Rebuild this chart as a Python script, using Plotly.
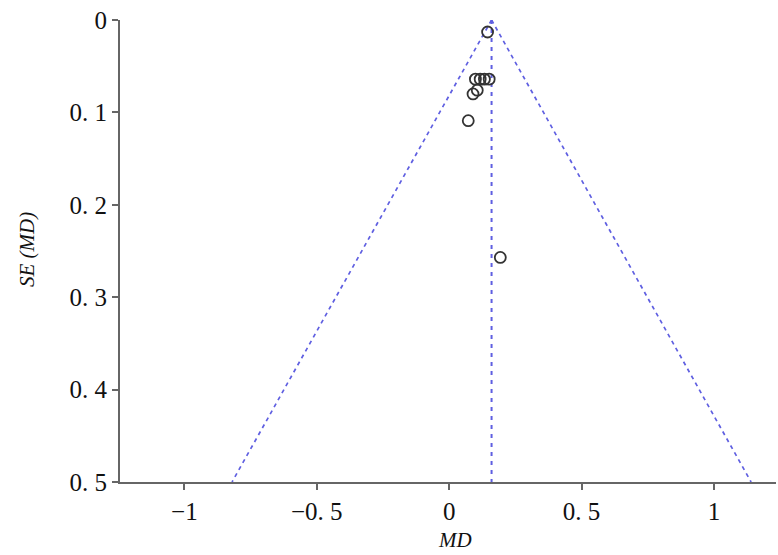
import plotly.graph_objects as go

# Study data: mean difference (MD) and its standard error
md = [0.145, 0.099, 0.117, 0.133, 0.151, 0.090, 0.106, 0.072, 0.193]
se = [0.013, 0.064, 0.064, 0.064, 0.064, 0.080, 0.076, 0.109, 0.257]

pooled_md = 0.16
se_limits = [0.0, 0.5]

x_tickvals = [-1, -0.5, 0, 0.5, 1]
x_ticktext = ["−1", "−0. 5", "0", "0. 5", "1"]
y_tickvals = [0, 0.1, 0.2, 0.3, 0.4, 0.5]
y_ticktext = ["0", "0. 1", "0. 2", "0. 3", "0. 4", "0. 5"]

line_color = "rgb(95,95,225)"
serif = "Liberation Serif, Times New Roman, serif"

fig = go.Figure()

dash = dict(color=line_color, width=1.7, dash="4px,4px")
fig.add_trace(go.Scatter(
    x=[pooled_md - 1.96 * s for s in se_limits], y=se_limits, mode="lines",
    line=dash, hoverinfo="skip"))
fig.add_trace(go.Scatter(
    x=[pooled_md + 1.96 * s for s in se_limits], y=se_limits, mode="lines",
    line=dash, hoverinfo="skip"))
fig.add_trace(go.Scatter(
    x=[pooled_md, pooled_md], y=se_limits, mode="lines",
    line=dict(color=line_color, width=2, dash="4px,5px"), hoverinfo="skip"))

fig.add_trace(go.Scatter(
    x=md, y=se, mode="markers",
    marker=dict(symbol="circle-open", size=11, color="#333333",
                line=dict(width=1.8, color="#333333"))))

axis_common = dict(showgrid=False, zeroline=False, showline=True, linecolor="#666666",
                   linewidth=2, ticks="outside", ticklen=6, tickwidth=2,
                   tickcolor="#666666", automargin=False,
                   tickfont=dict(family=serif, size=25, color="#111111"))

fig.update_layout(
    width=778, height=555,
    margin=dict(l=120, r=2, t=20, b=73),
    paper_bgcolor="white", plot_bgcolor="white",
    showlegend=False,
    xaxis=dict(range=[-1.243, 1.234], tickvals=x_tickvals, ticktext=x_ticktext,
               **axis_common),
    yaxis=dict(range=[0.5, 0], tickvals=y_tickvals, ticktext=y_ticktext,
               **axis_common),
    annotations=[
        dict(text="<i>SE (MD)</i>", xref="paper", yref="paper",
             x=(27 - 120) / 656, y=(482 - 250) / 462, xanchor="center", yanchor="middle",
             textangle=-90, showarrow=False,
             font=dict(family=serif, size=21, color="#111111")),
        dict(text="<i>MD</i>", xref="paper", yref="paper",
             x=(455 - 120) / 656, y=(482 - 540) / 462, xanchor="center", yanchor="middle",
             showarrow=False, font=dict(family=serif, size=21, color="#111111")),
    ],
)

fig.write_html("out.html", config={"displayModeBar": False},
               post_script="document.body.style.margin='0';document.body.style.overflow='hidden';")
